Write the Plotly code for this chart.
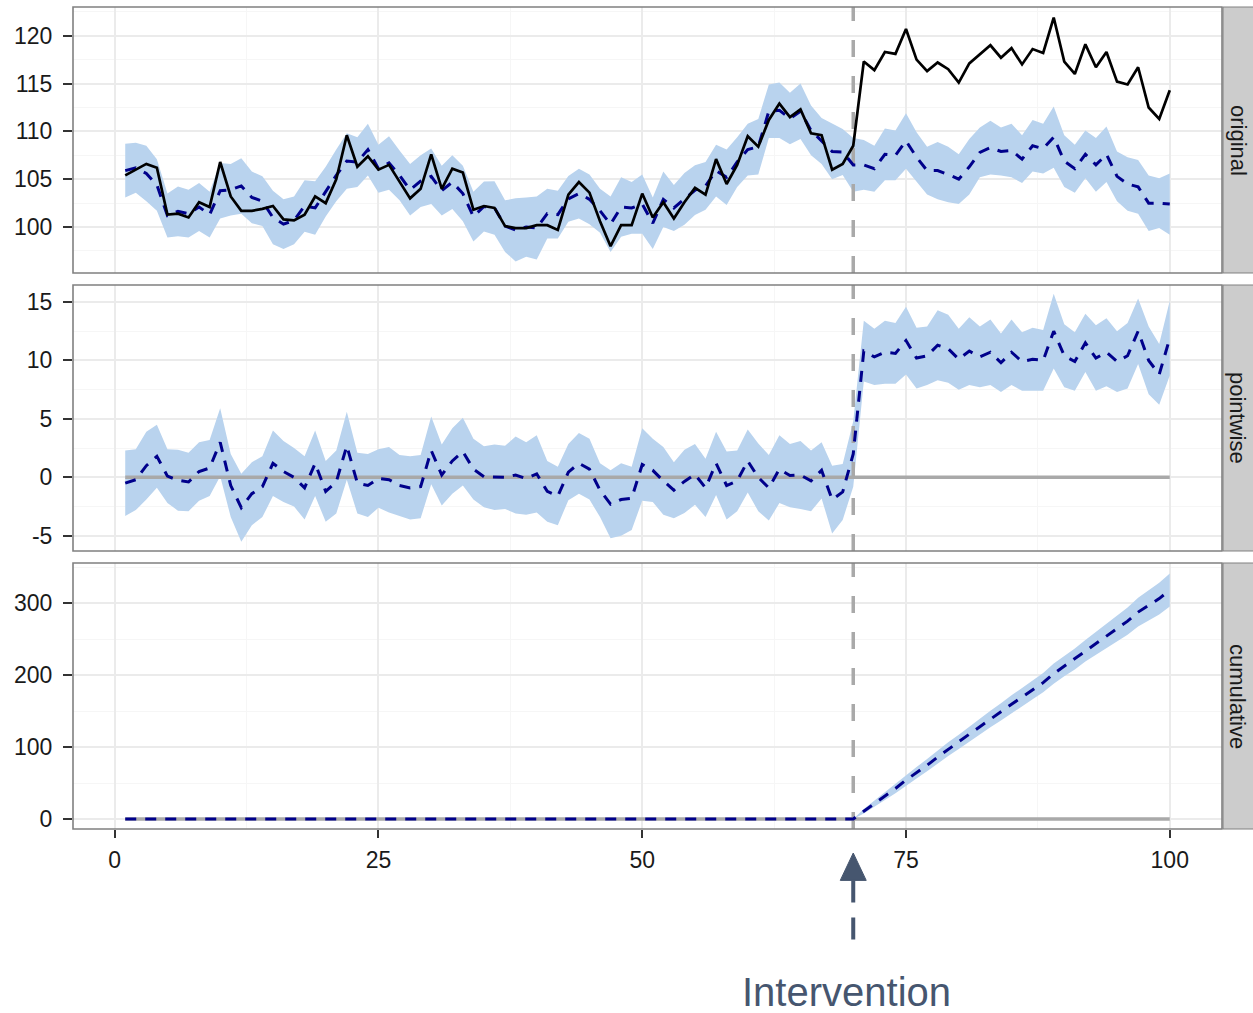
import plotly.graph_objects as go

# ---------------- data ----------------
time = list(range(1, 101))
intervention = 70

observed = [105.4, 106.0, 106.6, 106.2, 101.3, 101.4, 101.0, 102.6, 102.1, 106.8,
            103.2, 101.7, 101.7, 101.9, 102.2, 100.8, 100.7, 101.3, 103.2, 102.5,
            105.0, 109.6, 106.3, 107.4, 106.0, 106.5, 104.7, 103.0, 104.0, 107.6,
            104.0, 106.1, 105.7, 101.8, 102.2, 102.0, 100.1, 99.9, 99.9, 100.2,
            100.2, 99.7, 103.4, 104.7, 103.6, 100.6, 98.0, 100.2, 100.2, 103.5,
            101.0, 102.6, 100.9, 102.6, 104.1, 103.4, 107.1, 104.5, 106.5, 109.5,
            108.4, 111.2, 112.9, 111.5, 112.3, 109.8, 109.6, 106.0, 106.6, 108.5,
            117.3, 116.4, 118.3, 118.1, 120.7, 117.5, 116.3, 117.2, 116.5, 115.1,
            117.1, 118.1, 119.0, 117.7, 118.7, 117.0, 118.6, 118.2, 121.9, 117.3,
            116.0, 119.1, 116.7, 118.3, 115.2, 114.9, 116.7, 112.5, 111.3, 114.3]

predicted = [105.9, 106.2, 105.6, 104.4, 101.2, 101.65, 101.4, 102.1, 101.3, 103.8,
             103.9, 104.3, 103.1, 102.7, 101.0, 100.3, 100.7, 102.2, 102.0, 103.7,
             105.4, 106.9, 106.8, 108.1, 106.1, 106.7, 105.4, 103.9, 104.8, 105.3,
             103.8, 104.7, 103.5, 101.1, 102.15, 102.0, 100.1, 99.7, 100.0, 99.9,
             101.4, 101.3, 102.95, 103.5, 102.9, 101.7, 100.3, 102.1, 102.0, 102.4,
             100.4, 102.9, 102.0, 102.95, 103.85, 104.3, 105.9, 105.2, 106.8, 108.1,
             108.4, 112.1, 112.2, 111.35, 112.1, 110.1, 109.0, 107.9, 107.85, 106.5,
             106.5, 106.1, 107.6, 107.5, 109.0, 107.3, 105.9, 105.9, 105.5, 105.0,
             106.3, 107.8, 108.3, 107.9, 108.0, 107.1, 108.5, 108.2, 109.4, 106.9,
             106.1, 107.6, 106.5, 107.6, 105.3, 104.5, 104.2, 102.5, 102.5, 102.4]

# half-width of the 95% interval around the prediction
half_width = [2.8, 2.6, 2.9, 2.7, 2.3, 2.6, 2.5, 2.5, 2.4, 2.9,
              2.7, 2.9, 2.7, 2.6, 2.8, 2.6, 2.5, 2.7, 2.8, 2.6,
              2.7, 2.9, 2.6, 2.7, 2.5, 2.8, 2.6, 2.7, 2.7, 2.9,
              2.6, 2.8, 2.9, 2.6, 2.6, 2.8, 2.7, 3.3, 3.1, 3.3,
              2.6, 2.5, 2.4, 2.6, 2.6, 2.3, 2.9, 3.1, 2.7, 3.1,
              2.7, 2.9, 2.4, 2.7, 2.6, 2.5, 2.7, 2.9, 2.6, 2.7,
              2.9, 2.8, 2.9, 2.7, 2.9, 2.6, 2.4, 2.9, 2.4, 2.8,
              2.6, 2.4, 2.7, 2.6, 2.9, 2.6, 2.5, 3.0, 2.9, 2.6,
              2.9, 2.6, 2.8, 2.5, 2.8, 2.5, 2.7, 2.6, 3.2, 2.7,
              2.5, 2.5, 2.8, 2.9, 2.6, 2.8, 2.8, 2.9, 2.6, 3.2]

# half-width of the cumulative interval (post-period, t = 71..100)
cum_half_width = [3.0, 4.5, 5.5, 6.5, 7.5, 8.0, 8.5, 9.0, 9.5, 10.0,
                  10.5, 11.0, 11.5, 12.0, 12.5, 12.5, 13.0, 13.5, 14.0, 14.0,
                  14.5, 15.0, 16.0, 17.0, 18.0, 19.0, 20.0, 21.0, 22.0, 23.0]

x_ticks = [0, 25, 50, 75, 100]
y_ticks = [[100, 105, 110, 115, 120],
           [-5, 0, 5, 10, 15],
           [0, 100, 200, 300]]
y_minor = [[97.5, 102.5, 107.5, 112.5, 117.5, 122.5],
           [-2.5, 2.5, 7.5, 12.5],
           [50, 150, 250, 350]]
panel_names = ["original", "pointwise", "cumulative"]

# ---------------- derived series ----------------
pred_lo = [p - h for p, h in zip(predicted, half_width)]
pred_hi = [p + h for p, h in zip(predicted, half_width)]
effect = [o - p for o, p in zip(observed, predicted)]
eff_lo = [o - h for o, h in zip(observed, pred_hi)]
eff_hi = [o - l for o, l in zip(observed, pred_lo)]

cum = []
running = 0.0
for t, e in zip(time, effect):
    if t > intervention:
        running += e
    cum.append(running)
cum_hw = [0.0] * intervention + cum_half_width
cum_lo = [c - h for c, h in zip(cum, cum_hw)]
cum_hi = [c + h for c, h in zip(cum, cum_hw)]

# ---------------- style ----------------
BAND = "#B9D3EE"
PRED = "#00008B"
GREY = "#A9A9A9"
SLATE = "#46566F"
FONT = "Liberation Sans, Arial, Helvetica, sans-serif"

y_ranges = [[95.2, 123.0], [-6.3, 16.45], [-13.9, 355.6]]
y_domains = [[0.6764, 1.0], [0.3382, 0.6618], [0.0, 0.3236]]
x_range = [-3.95, 104.95]
x_dom = [0.0, 0.97373]

fig = go.Figure()


def add_band(lo, hi, xa, ya):
    fig.add_trace(go.Scatter(x=time, y=hi, mode="lines", line=dict(width=0, color=BAND),
                             xaxis=xa, yaxis=ya, showlegend=False, hoverinfo="skip"))
    fig.add_trace(go.Scatter(x=time, y=lo, mode="lines", line=dict(width=0, color=BAND),
                             fill="tonexty", fillcolor=BAND,
                             xaxis=xa, yaxis=ya, showlegend=False, hoverinfo="skip"))


def add_vline(xa, ya, yr):
    fig.add_trace(go.Scatter(x=[intervention, intervention], y=yr, mode="lines",
                             line=dict(color=GREY, width=3.5, dash="17px,19px"),
                             xaxis=xa, yaxis=ya, showlegend=False, hoverinfo="skip"))


def add_zero(xa, ya):
    fig.add_trace(go.Scatter(x=[time[0], time[-1]], y=[0, 0], mode="lines",
                             line=dict(color=GREY, width=3.5),
                             xaxis=xa, yaxis=ya, showlegend=False, hoverinfo="skip"))


def add_dashed(yv, xa, ya):
    fig.add_trace(go.Scatter(x=time, y=yv, mode="lines",
                             line=dict(color=PRED, width=3, dash="11px,9px"),
                             xaxis=xa, yaxis=ya, showlegend=False))


# panel 1: original
add_band(pred_lo, pred_hi, "x", "y")
add_vline("x", "y", y_ranges[0])
add_dashed(predicted, "x", "y")
fig.add_trace(go.Scatter(x=time, y=observed, mode="lines",
                         line=dict(color="black", width=2.7),
                         xaxis="x", yaxis="y", showlegend=False))

# panel 2: pointwise
add_band(eff_lo, eff_hi, "x2", "y2")
add_zero("x2", "y2")
add_vline("x2", "y2", y_ranges[1])
add_dashed(effect, "x2", "y2")

# panel 3: cumulative
add_band(cum_lo, cum_hi, "x3", "y3")
add_zero("x3", "y3")
add_vline("x3", "y3", y_ranges[2])
add_dashed(cum, "x3", "y3")

layout = dict(
    width=1253, height=1013,
    margin=dict(l=73, r=0, t=7, b=184),
    paper_bgcolor="white", plot_bgcolor="white",
    font=dict(family=FONT, size=23, color="#1a1a1a"),
    showlegend=False,
)

axis_names = ["", "2", "3"]
for i, s in enumerate(axis_names):
    last = (i == 2)
    layout["xaxis" + s] = dict(
        domain=x_dom, range=x_range, anchor="y" + s,
        tickmode="array", tickvals=x_ticks, ticktext=[str(v) for v in x_ticks],
        showticklabels=last, ticks="outside" if last else "", ticklen=8,
        tickcolor="#333333", tickwidth=1.5, ticklabelstandoff=2,
        tickfont=dict(size=23, color="#1a1a1a", family=FONT),
        showgrid=True, gridcolor="#EBEBEB", gridwidth=1.5, zeroline=False,
        showline=False,
        minor=dict(tickvals=[12.5, 37.5, 62.5, 87.5], showgrid=True,
                   gridcolor="#F6F6F6", gridwidth=1, ticks=""),
    )
    layout["yaxis" + s] = dict(
        domain=y_domains[i], range=y_ranges[i], anchor="x" + s,
        tickmode="array", tickvals=y_ticks[i], ticktext=[str(v) for v in y_ticks[i]],
        ticks="outside", ticklen=9,
        tickcolor="#333333", tickwidth=1.5, ticklabelstandoff=6,
        tickfont=dict(size=23, color="#1a1a1a", family=FONT),
        showgrid=True, gridcolor="#EBEBEB", gridwidth=1.5, zeroline=False,
        showline=False,
        minor=dict(tickvals=y_minor[i], showgrid=True,
                   gridcolor="#F6F6F6", gridwidth=1, ticks=""),
    )

shapes = []
annotations = []
strip_x0 = 0.97458
for i, s in enumerate(axis_names):
    # panel border
    shapes.append(dict(type="rect", xref="x" + s + " domain", yref="y" + s + " domain",
                       x0=0, x1=1, y0=0, y1=1, line=dict(color="#808080", width=1.6),
                       fillcolor="rgba(0,0,0,0)", layer="above"))
    # strip
    shapes.append(dict(type="rect", xref="paper", yref="y" + s + " domain",
                       x0=strip_x0, x1=1.002, y0=0, y1=1,
                       line=dict(color="#808080", width=1), fillcolor="#CCCCCC",
                       layer="above"))
    annotations.append(dict(text=panel_names[i], xref="paper", yref="y" + s + " domain",
                            x=(strip_x0 + 1.0) / 2, y=0.5, textangle=90, showarrow=False,
                            xanchor="center", yanchor="middle",
                            font=dict(size=22, color="#1a1a1a", family=FONT)))

# Intervention arrow below the axis
shapes.append(dict(type="path", xref="x3", yref="paper",
                   path=f"M {intervention - 1.23},-0.0625 L {intervention + 1.23},-0.0625 "
                        f"L {intervention},-0.0292 Z",
                   fillcolor=SLATE, line=dict(color=SLATE, width=1)))
shapes.append(dict(type="line", xref="x3", yref="paper",
                   x0=intervention, x1=intervention, y0=-0.0625, y1=-0.1375,
                   line=dict(color=SLATE, width=4, dash="22px,15px")))
annotations.append(dict(text="Intervention", xref="paper", yref="paper",
                        x=0.6559, y=-0.1985, showarrow=False,
                        xanchor="center", yanchor="middle",
                        font=dict(size=40, color=SLATE, family=FONT)))

layout["shapes"] = shapes
layout["annotations"] = annotations
fig.update_layout(**layout)

fig.write_html("out.html", config={"displayModeBar": False},
               post_script="document.body.style.margin='0';document.body.style.overflow='hidden';")
